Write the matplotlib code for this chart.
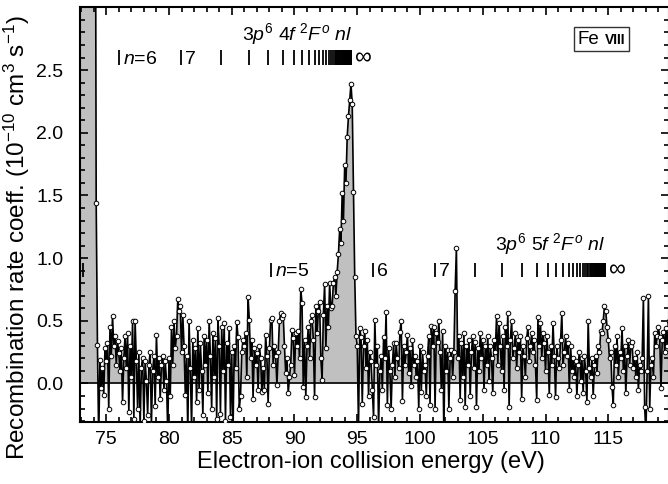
import numpy as np
import matplotlib
matplotlib.use('Agg')
import matplotlib.pyplot as plt
from matplotlib.ticker import MultipleLocator
from matplotlib.offsetbox import TextArea, HPacker, AnnotationBbox

plt.rcParams['font.family'] = ['Liberation Sans', 'DejaVu Sans']
plt.rcParams['mathtext.fontset'] = 'custom'
plt.rcParams['mathtext.rm'] = 'Liberation Sans'
plt.rcParams['mathtext.it'] = 'Liberation Sans:italic'
plt.rcParams['mathtext.bf'] = 'Liberation Sans:bold'

# ---------------- data ----------------
E_START = 72.0   # eV, first energy bin
E_STEP = 0.1     # eV, bin width
rate = [
    6.0, 6.0, 6.0, 6.0, 6.0, 6.0, 6.0, 6.0, 6.0, 6.0,            # 72
    6.0, 6.0, 6.0, 6.0, 6.0, 6.0, 6.0, 6.0, 6.0, 6.0,            # 73
    6.0, 6.0, 1.44, 0.31, -0.45, 0.19, -0.04, 0.12, -0.09, 0.28,  # 74
    0.18, 0.32, -0.20, 0.45, 0.22, 0.54, 0.30, 0.38, 0.15, 0.34,  # 75
    0.24, 0.10, 0.28, -0.15, 0.20, 0.38, 0.12, 0.40, -0.23, 0.30, # 76
    0.05, 0.50, -0.28, 0.50, 0.18, -0.20, 0.25, -0.35, 0.12, 0.20, # 77
    -0.30, 0.18, 0.02, -0.25, 0.15, 0.25, -0.32, 0.10, 0.22, -0.18, # 78
    0.39, 0.05, 0.20, -0.12, 0.15, 0.22, -0.05, 0.18, 0.02, -0.38, # 79
    0.20, -0.10, 0.45, 0.15, 0.50, 0.28, 0.38, 0.67, 0.58, 0.62,  # 80
    0.25, 0.55, 0.30, -0.09, 0.22, -0.40, 0.50, 0.12, -0.35, 0.35, # 81
    0.05, 0.28, -0.15, 0.44, -0.05, 0.32, 0.10, -0.25, 0.38, 0.15, # 82
    0.35, -0.08, 0.50, 0.22, -0.20, 0.40, 0.05, 0.36, -0.28, 0.52, # 83
    0.30, -0.24, 0.45, 0.10, 0.48, -0.30, 0.32, 0.15, 0.44, -0.27, # 84
    0.25, -0.40, 0.30, 0.12, 0.49, 0.37, -0.20, -0.10, 0.25, 0.35, # 85
    0.30, 0.40, 0.05, 0.69, 0.51, 0.20, 0.35, -0.12, 0.28, 0.15,  # 86
    0.24, -0.05, 0.30, 0.20, -0.07, 0.12, -0.05, 0.39, 0.22, -0.16, # 87
    0.28, 0.51, 0.52, 0.15, 0.30, 0.22, -0.01, 0.25, 0.50, 0.56,  # 88
    0.52, 0.55, 0.30, 0.08, 0.20, -0.08, 0.05, 0.15, 0.43, 0.36,  # 89
    0.07, 0.40, 0.30, 0.42, 0.20, 0.75, 0.64, -0.03, 0.35, -0.11, # 90
    0.30, 0.45, 0.20, 0.50, 0.55, 0.35, -0.11, 0.62, 0.40, 0.58,  # 91
    0.65, 0.20, 0.03, 0.55, 0.79, 0.28, 0.62, 0.45, 0.80, 0.60,   # 92
    0.62, 0.80, 0.85, 0.70, 0.89, 1.03, 1.23, 1.12, 1.52, 1.30,   # 93
    1.74, 1.60, 1.97, 2.13, 2.26, 2.39, 2.23, 1.53, 0.85, 0.38,   # 94
    0.30, -0.35, 0.44, 0.37, -0.16, 0.30, 0.42, 0.12, 0.35, -0.10, # 95
    0.25, 0.18, -0.05, -0.27, 0.51, 0.15, 0.30, -0.35, 0.10, 0.22, # 96
    -0.05, 0.37, 0.20, 0.57, -0.17, 0.28, 0.10, -0.20, 0.15, 0.32, # 97
    0.05, 0.32, 0.20, 0.12, 0.41, 0.50, -0.14, 0.30, 0.15, 0.25,  # 98
    0.39, 0.08, 0.28, -0.02, 0.35, 0.15, 0.22, 0.05, 0.18, -0.20, # 99
    0.30, -0.07, 0.25, 0.10, 0.15, -0.10, 0.22, 0.38, -0.17, 0.46, # 100
    0.30, 0.45, -0.20, 0.40, 0.33, 0.50, 0.25, -0.05, 0.42, -0.40, # 101
    0.30, 0.10, 0.27, -0.20, 0.20, 0.27, 0.05, 0.25, 0.74, 1.08,  # 102
    0.20, 0.38, -0.13, 0.32, 0.05, 0.40, -0.19, 0.30, 0.15, 0.35, # 103
    -0.10, 0.25, 0.38, 0.12, 0.33, -0.19, 0.28, 0.10, 0.40, 0.20, # 104
    0.35, -0.05, 0.30, 0.15, 0.38, 0.02, 0.30, 0.20, -0.08, 0.35, # 105
    0.25, 0.54, 0.15, 0.48, 0.30, 0.10, 0.38, -0.05, 0.45, 0.30,  # 106
    0.56, -0.19, 0.35, 0.50, 0.20, 0.28, 0.40, 0.12, 0.35, 0.25,  # 107
    0.38, -0.12, 0.30, 0.22, 0.05, 0.36, 0.45, 0.18, 0.30, 0.40,  # 108
    0.25, 0.35, 0.15, -0.13, 0.53, 0.30, 0.48, 0.20, 0.40, 0.32,  # 109
    0.10, 0.38, 0.25, -0.09, 0.30, 0.15, 0.48, 0.22, -0.11, 0.30, # 110
    0.20, 0.12, 0.35, 0.56, 0.15, 0.25, 0.38, 0.22, 0.32, -0.05,  # 111
    0.30, 0.10, 0.20, 0.05, 0.18, -0.10, 0.15, 0.25, 0.02, 0.20,  # 112
    -0.08, 0.22, 0.10, -0.15, 0.50, 0.12, 0.05, 0.20, -0.10, 0.15, # 113
    0.22, 0.08, 0.30, 0.25, 0.42, 0.40, 0.50, 0.62, 0.58, 0.45,   # 114
    0.35, 0.20, 0.25, -0.03, -0.17, 0.30, 0.15, 0.38, 0.05, 0.25, # 115
    0.20, 0.44, 0.10, 0.30, -0.08, 0.22, 0.35, 0.15, 0.30, 0.33,  # 116
    0.12, 0.20, 0.05, 0.25, -0.05, 0.15, 0.10, 0.20, 0.68, -0.19, # 117
    -0.40, 0.10, 0.70, -0.20, 0.15, 0.20, 0.05, 0.40, 0.30, 0.38, # 118
    0.45, 0.37, -0.04, 0.35, 0.41, 0.25, 0.44, 0.30, 0.50, 0.35,  # 119
]
rate = np.array(rate)
energy = E_START + E_STEP * np.arange(len(rate))

# Rydberg series annotations
RYD = 13.606
CHARGE = 7
top_series_limit = 94.57    # 3p6 4f 2F nl
bot_series_limit = 114.80   # 3p6 5f 2F nl
top_n = np.arange(6, 121)
bot_n = np.arange(4, 121)
top_labels = {6: r'$n$=6', 7: '7'}
bot_labels = {5: r'$n$=5', 6: '6', 7: '7'}
top_title = r'$3p^6\ 4f\ ^2F^o\ nl$'
bot_title = r'$3p^6\ 5f\ ^2F^o\ nl$'

# ---------------- figure ----------------
W, H = 668, 484
fig = plt.figure(figsize=(W / 100, H / 100), dpi=100)
ax_l, ax_r, ax_t, ax_b = 80, 668.5, 7.4, 421.7
ax = fig.add_axes([ax_l / W, 1 - ax_b / H, (ax_r - ax_l) / W, (ax_b - ax_t) / H])

ax.fill_between(energy, rate, 0, where=rate > 0, interpolate=True,
                color='#c0c0c0', lw=0, zorder=1)
ax.axhline(0, color='black', lw=1.2, zorder=2)
ax.plot(energy, rate, '-', color='black', lw=1.2, marker='o', ms=3.3,
        mfc='white', mec='black', mew=0.7, zorder=3)

ax.set_xlim(72.91, 119.80)
ax.set_ylim(-0.305, 3.0)
ax.set_yticks([0.0, 0.5, 1.0, 1.5, 2.0, 2.5])
ax.set_yticklabels(['0.0', '0.5', '1.0', '1.5', '2.0', '2.5'])
ax.xaxis.set_major_locator(MultipleLocator(5))
ax.xaxis.set_minor_locator(MultipleLocator(1))
ax.yaxis.set_minor_locator(MultipleLocator(0.1))
ax.tick_params(which='both', direction='in', top=True, right=True,
               width=1.2, labelsize=14)
ax.tick_params(axis='x', which='major', pad=7)
ax.tick_params(axis='y', which='major', pad=12)
ax.tick_params(which='major', length=6)
ax.tick_params(which='minor', length=3.5)
for s in ax.spines.values():
    s.set_linewidth(1.5)

ax.set_xlabel('Electron-ion collision energy (eV)', fontsize=17)
ax.xaxis.set_label_coords(0.495, -0.07)
ax.set_ylabel(r'Recombination rate coeff. (10$^{-10}$ cm$^3$ s$^{-1}$)',
              fontsize=17.5)
ax.yaxis.set_label_coords(-0.082, 0.445)


def draw_series(limit, ns, labels, title, y0, y1, title_x, title_y, inf_x):
    pos = limit - RYD * CHARGE ** 2 / ns.astype(float) ** 2
    ax.vlines(pos, y0, y1, color='black', lw=1.3, zorder=4)
    for n, lab in labels.items():
        e = limit - RYD * CHARGE ** 2 / n ** 2
        ax.text(e + 0.3, y0 + 0.005, lab, fontsize=14, ha='left',
                va='baseline', zorder=5)
    ax.text(title_x, title_y, title, fontsize=14, ha='center', va='baseline', zorder=5)
    ax.text(inf_x, y0 + 0.005, '\u221e', fontsize=17, ha='left',
            va='baseline', zorder=5)


draw_series(top_series_limit, top_n, top_labels, top_title,
            2.54, 2.66, 90.2, 2.74, 94.85)
draw_series(bot_series_limit, bot_n, bot_labels, bot_title,
            0.85, 0.96, 110.4, 1.06, 115.05)

# Fe VIII label box
ta1 = TextArea('Fe', textprops=dict(fontsize=13.5))
ta2 = TextArea('VIII', textprops=dict(fontsize=10, fontweight='bold'))
box = HPacker(children=[ta1, ta2], align='baseline', pad=0, sep=4)
ab = AnnotationBbox(box, (0.886, 0.923), xycoords='axes fraction',
                    frameon=True, box_alignment=(0.5, 0.5), pad=0.25,
                    bboxprops=dict(edgecolor='#333333', lw=1.0, facecolor='white'))
ax.add_artist(ab)

fig.savefig('out.png', dpi=100)
